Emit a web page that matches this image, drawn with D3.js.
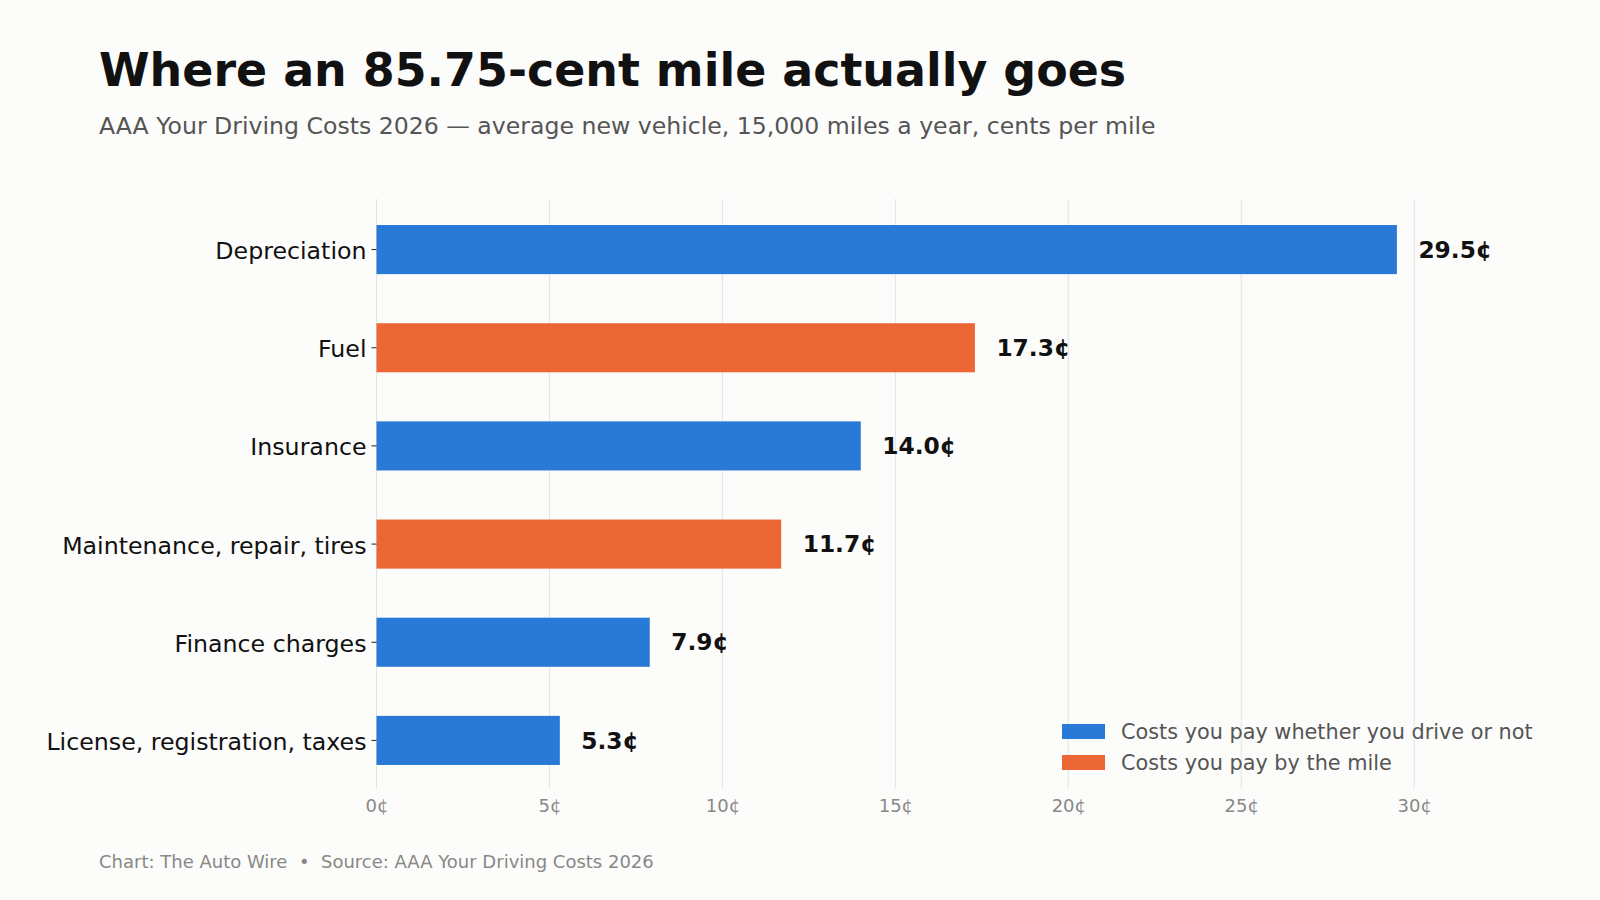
<!DOCTYPE html>
<html>
<head>
<meta charset="utf-8">
<script src="https://cdn.jsdelivr.net/npm/d3@7"></script>
<style>
  html, body { margin: 0; padding: 0; background: #fcfcfa; }
  svg { display: block; font-family: "DejaVu Sans", sans-serif; }
</style>
</head>
<body>
<svg id="chart" width="1600" height="900"></svg>
<script>
const categories = ["Depreciation", "Fuel", "Insurance", "Maintenance, repair, tires", "Finance charges", "License, registration, taxes"];
const values = [29.5, 17.3, 14.0, 11.7, 7.9, 5.3];
const costTypes = ["fixed", "variable", "fixed", "variable", "fixed", "fixed"];
const xTicks = [0, 5, 10, 15, 20, 25, 30];
const legendLabels = ["Costs you pay whether you drive or not", "Costs you pay by the mile"];
const legendKeys = ["fixed", "variable"];

const colors = { fixed: "#2979d6", variable: "#ec6736" };

const svg = d3.select("#chart");
svg.append("rect").attr("width", 1600).attr("height", 900).attr("fill", "#fcfcfa");

const plotLeft = 376.5, plotTop = 199, plotBottom = 788;
const x = d3.scaleLinear().domain([0, 33]).range([plotLeft, plotLeft + 33 * 34.59]);
const y = d3.scaleBand().domain(categories).range([plotTop + 1.5, plotBottom + 1.5]).paddingInner(0.5).paddingOuter(0.25);

// Title & subtitle
svg.append("text").attr("x", 99).attr("y", 85.5)
  .attr("font-size", 45.9).attr("font-weight", "bold").attr("fill", "#111")
  .text("Where an 85.75-cent mile actually goes");
svg.append("text").attr("x", 99).attr("y", 134)
  .attr("font-size", 23.6).attr("fill", "#555")
  .text("AAA Your Driving Costs 2026 — average new vehicle, 15,000 miles a year, cents per mile");

// Gridlines
svg.append("g").selectAll("line").data(xTicks).join("line")
  .attr("x1", d => x(d)).attr("x2", d => x(d))
  .attr("y1", plotTop).attr("y2", plotBottom)
  .attr("stroke", "#e3e3e3").attr("stroke-width", 1);

// Bars
const data = categories.map((c, i) => ({ c, v: values[i], t: costTypes[i] }));
svg.append("g").selectAll("rect").data(data).join("rect")
  .attr("x", x(0)).attr("y", d => y(d.c))
  .attr("width", d => x(d.v) - x(0)).attr("height", y.bandwidth())
  .attr("fill", d => colors[d.t]);

// Value labels
svg.append("g").selectAll("text").data(data).join("text")
  .attr("x", d => x(d.v) + 21.5).attr("y", d => y(d.c) + y.bandwidth() / 2)
  .attr("dy", "0.35em")
  .attr("font-size", 23.3).attr("font-weight", "bold").attr("fill", "#111")
  .text(d => d.v.toFixed(1) + "¢");

// Y axis
const yAxis = svg.append("g").attr("transform", `translate(${x(0)},0)`)
  .call(d3.axisLeft(y).tickSize(5).tickPadding(5));
yAxis.select(".domain").remove();
yAxis.selectAll(".tick line").attr("stroke", "#222");
yAxis.selectAll(".tick text").attr("font-size", 23.7).attr("fill", "#111")
  .attr("dy", "0.4em")
  .attr("font-family", "DejaVu Sans, sans-serif");

// X axis
const xAxis = svg.append("g").attr("transform", `translate(0,${plotBottom})`)
  .call(d3.axisBottom(x).tickValues(xTicks).tickSize(0).tickPadding(11.5).tickFormat(d => d + "¢"));
xAxis.select(".domain").remove();
xAxis.selectAll(".tick text").attr("font-size", 18).attr("fill", "#888")
  .attr("font-family", "DejaVu Sans, sans-serif");

// Legend
const lg = svg.append("g");
legendKeys.forEach((k, i) => {
  const ly = 731.5 + i * 31;
  lg.append("rect").attr("x", 1062).attr("y", ly - 7.5).attr("width", 43).attr("height", 15)
    .attr("fill", colors[k]);
  lg.append("text").attr("x", 1121).attr("y", ly).attr("dy", "0.35em")
    .attr("font-size", 20.8).attr("fill", "#555").text(legendLabels[i]);
});

// Footer
svg.append("text").attr("x", 99).attr("y", 868)
  .attr("font-size", 18).attr("fill", "#888")
  .attr("xml:space", "preserve").style("white-space", "pre")
  .text("Chart: The Auto Wire  •  Source: AAA Your Driving Costs 2026");
</script>
</body>
</html>
